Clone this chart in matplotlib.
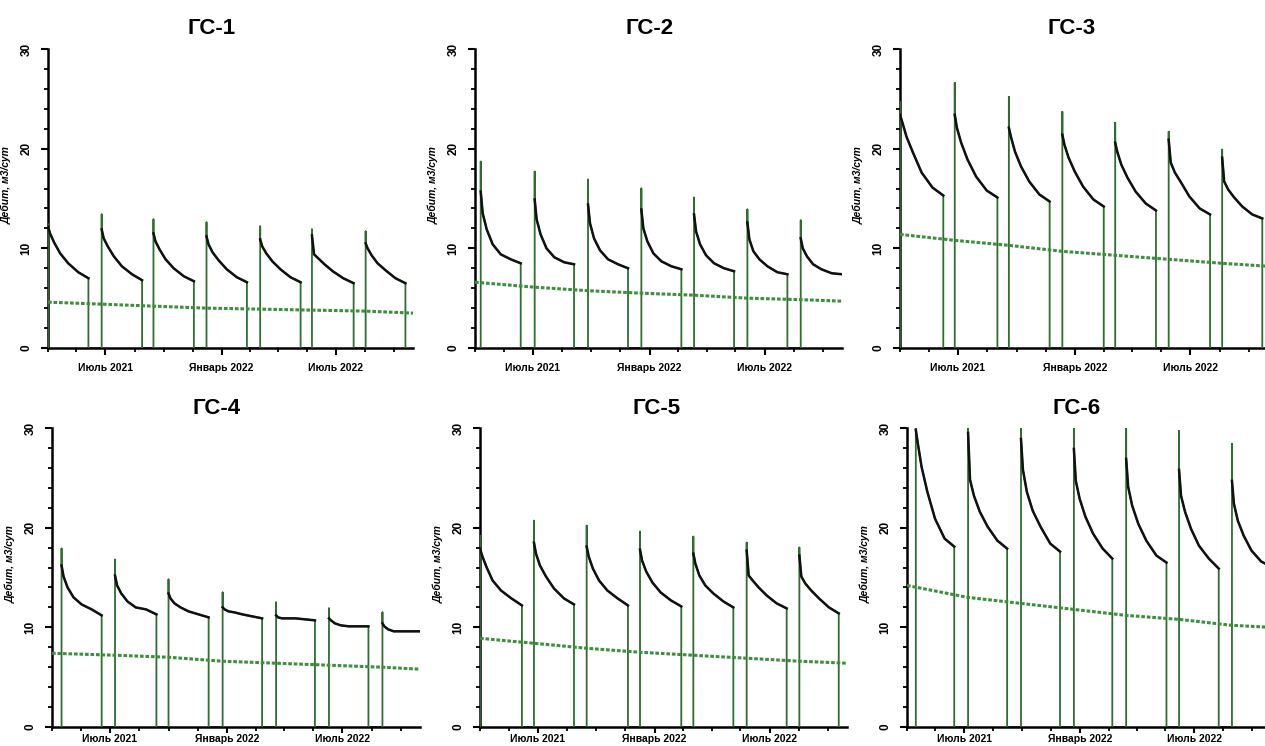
import datetime
import matplotlib
matplotlib.use("Agg")
import matplotlib.pyplot as plt
import matplotlib.dates as mdates

# wells
titles = ["ГС-1", "ГС-2", "ГС-3", "ГС-4", "ГС-5", "ГС-6"]

# days from 2021-04-01
spike_days = [
    [0, 85, 167, 251, 336, 418, 503],
    [9, 94, 178, 262, 345, 429, 513],
    [0, 86, 171, 255, 338, 422, 506],
    [15, 99, 183, 268, 352, 435, 519],
    [0, 85, 168, 252, 336, 420, 503],
    [14, 97, 181, 265, 348, 432, 516],
]
stop_days = [
    [64, 149, 231, 315, 400, 484, 566],
    [72, 156, 241, 325, 408, 492, 578],
    [68, 153, 235, 320, 402, 487, 569],
    [78, 164, 246, 330, 413, 497, 578],
    [66, 148, 233, 317, 399, 483, 565],
    [75, 159, 243, 326, 412, 495, 578],
]
# last cycle still running at the end of the period
open_end = [False, True, False, True, False, True]

peaks = [
    [12.4, 13.4, 12.9, 12.6, 12.2, 11.9, 11.7],
    [18.7, 17.7, 16.9, 16.0, 15.1, 13.9, 12.8],
    [24.7, 26.6, 25.2, 23.7, 22.6, 21.7, 19.9],
    [17.9, 16.8, 14.8, 13.5, 12.5, 11.9, 11.5],
    [19.2, 20.7, 20.2, 19.6, 19.1, 18.5, 18.0],
    [30.0, 30.0, 30.0, 30.0, 30.0, 29.7, 28.4],
]

# rate read along each cycle at fractions of the cycle length
frac = [0, 0.05, 0.15, 0.3, 0.5, 0.75, 1.0]
curves = [
    [[12.2, 11.5, 10.6, 9.5, 8.5, 7.6, 7.0],
     [11.9, 11.0, 10.2, 9.2, 8.2, 7.4, 6.8],
     [11.5, 10.7, 9.9, 8.9, 8.0, 7.2, 6.7],
     [11.2, 10.4, 9.6, 8.8, 7.9, 7.1, 6.6],
     [10.9, 10.2, 9.5, 8.7, 7.9, 7.1, 6.6],
     [11.3, 9.4, 9.0, 8.4, 7.7, 7.0, 6.5],
     [10.5, 10.0, 9.3, 8.5, 7.8, 7.0, 6.5]],
    [[15.7, 13.5, 11.9, 10.4, 9.4, 8.9, 8.5],
     [14.9, 12.9, 11.4, 10.0, 9.1, 8.6, 8.4],
     [14.4, 12.5, 11.0, 9.8, 8.9, 8.4, 8.0],
     [13.9, 12.0, 10.7, 9.5, 8.7, 8.2, 7.9],
     [13.4, 11.7, 10.4, 9.3, 8.5, 8.0, 7.7],
     [12.6, 10.9, 9.7, 8.9, 8.2, 7.6, 7.4],
     [11.0, 10.0, 9.2, 8.4, 7.9, 7.5, 7.4]],
    [[23.4, 22.7, 21.2, 19.6, 17.6, 16.1, 15.3],
     [23.4, 22.1, 20.6, 18.9, 17.2, 15.8, 15.1],
     [22.1, 21.2, 19.7, 18.2, 16.7, 15.4, 14.7],
     [21.4, 20.4, 19.1, 17.7, 16.2, 14.9, 14.2],
     [20.6, 19.7, 18.4, 17.1, 15.7, 14.5, 13.8],
     [20.9, 18.6, 17.6, 16.6, 15.2, 14.0, 13.4],
     [19.1, 16.7, 15.9, 15.1, 14.2, 13.4, 13.0]],
    [[16.2, 15.1, 14.0, 13.0, 12.3, 11.8, 11.2],
     [15.2, 14.2, 13.4, 12.6, 12.0, 11.8, 11.3],
     [13.4, 12.9, 12.4, 12.0, 11.6, 11.3, 11.0],
     [12.0, 11.8, 11.6, 11.5, 11.3, 11.1, 10.9],
     [11.2, 11.0, 10.9, 10.9, 10.9, 10.8, 10.7],
     [10.9, 10.7, 10.4, 10.2, 10.1, 10.1, 10.1],
     [10.4, 10.1, 9.8, 9.6, 9.6, 9.6, 9.6]],
    [[17.9, 17.2, 16.1, 14.7, 13.7, 12.9, 12.2],
     [18.5, 17.4, 16.2, 15.1, 13.9, 12.9, 12.3],
     [18.1, 17.1, 15.9, 14.7, 13.7, 12.9, 12.2],
     [17.8, 16.7, 15.6, 14.5, 13.5, 12.7, 12.1],
     [17.4, 16.4, 15.2, 14.2, 13.4, 12.6, 12.0],
     [17.7, 15.2, 14.7, 14.0, 13.2, 12.4, 11.9],
     [17.2, 15.1, 14.4, 13.7, 12.9, 12.0, 11.4]],
    [[29.8, 28.5, 26.1, 23.6, 20.9, 18.9, 18.1],
     [29.5, 24.8, 23.2, 21.6, 20.1, 18.7, 17.9],
     [28.9, 25.8, 23.6, 21.7, 20.1, 18.4, 17.6],
     [27.9, 24.7, 22.9, 21.1, 19.4, 17.9, 16.9],
     [26.9, 24.1, 22.2, 20.4, 18.7, 17.2, 16.5],
     [25.8, 23.2, 21.6, 19.9, 18.2, 16.9, 15.9],
     [24.7, 22.4, 20.7, 19.2, 17.7, 16.6, 16.1]],
]

# continuous-mode rate, at period start, each restart and period end
trend = [
    [4.6, 4.4, 4.2, 4.0, 3.9, 3.8, 3.7, 3.5],
    [6.6, 6.1, 5.75, 5.5, 5.3, 5.0, 4.85, 4.7],
    [11.4, 10.8, 10.3, 9.7, 9.3, 8.9, 8.5, 8.2],
    [7.4, 7.2, 7.0, 6.6, 6.4, 6.2, 6.0, 5.8],
    [8.9, 8.4, 7.9, 7.5, 7.2, 6.9, 6.6, 6.4],
    [14.2, 13.0, 12.4, 11.8, 11.2, 10.8, 10.2, 10.0],
]

end_day = 578
major_dates = [datetime.date(2021, 7, 1), datetime.date(2022, 1, 1), datetime.date(2022, 7, 1)]
major_labels = ["Июль 2021", "Январь 2022", "Июль 2022"]
minor_dates = [datetime.date(2021, 4, 1), datetime.date(2021, 5, 16), datetime.date(2021, 8, 16),
               datetime.date(2021, 10, 1), datetime.date(2021, 11, 16), datetime.date(2022, 2, 15),
               datetime.date(2022, 4, 1), datetime.date(2022, 5, 16), datetime.date(2022, 8, 16),
               datetime.date(2022, 10, 1)]

plt.rcParams['font.family'] = ['Liberation Sans', 'DejaVu Sans']

W, H = 1265, 746
# axes boxes in pixels: left, top(30), right
boxes = [(48, 49, 413), (475, 49, 842), (900, 49, 1268),
         (52, 428, 420), (480, 428, 847), (907, 428, 1271)]
title_x = [212, 650, 1072, 217, 657, 1077]

x0 = mdates.date2num(datetime.date(2021, 4, 1))
green = '#2f6e2f'
dgreen = '#3c8f3c'

fig = plt.figure(figsize=(W / 100, H / 100), dpi=100)

for k in range(6):
    l, t, r = boxes[k]
    ax = fig.add_axes([l / W, 1 - (t + 299) / H, (r - l) / W, 299 / H])

    starts = spike_days[k]
    stops = stop_days[k]
    for c in range(7):
        t0 = starts[c]
        t1 = stops[c]
        cx = [x0 + t0 + f * (t1 - t0) for f in frac]
        cy = curves[k][c]
        gx = [x0 + t0, x0 + t0] + cx
        gy = [0, peaks[k][c]] + cy
        if not (open_end[k] and c == 6):
            gx = gx + [x0 + t1]
            gy = gy + [0]
        ax.plot(gx, gy, color=green, lw=1.3, zorder=3)
        ax.plot(cx, cy, color='#111111', lw=1.8, zorder=4)
        # idle time between cycles
        if c < 6:
            ax.plot([x0 + t1, x0 + starts[c + 1]], [0, 0], color=green, lw=1.3)

    tx = [x0] + [x0 + d for d in starts[1:]] + [x0 + end_day]
    ax.plot(tx, trend[k], color=dgreen, lw=2.2, ls=(0, (1.2, 0.6)), zorder=5)

    ax.set_xlim(x0, x0 + end_day)
    ax.set_ylim(0, 30)
    for s in ['top', 'right']:
        ax.spines[s].set_visible(False)
    for s in ['left', 'bottom']:
        ax.spines[s].set_linewidth(1.8)

    ax.set_yticks([0, 10, 20, 30])
    ax.set_yticks(range(0, 31, 2), minor=True)
    ax.set_yticklabels(['0', '10', '20', '30'], rotation=90, va='center',
                       fontsize=8.5, fontweight='bold')
    ax.set_xticks([mdates.date2num(d) for d in major_dates])
    ax.set_xticks([mdates.date2num(d) for d in minor_dates], minor=True)
    ax.set_xticklabels(major_labels, fontsize=7.5, fontweight='bold')
    ax.tick_params(axis='both', which='major', length=5, width=1.5, direction='out', pad=6)
    ax.tick_params(axis='both', which='minor', length=3, width=1.3, direction='out')
    if k >= 3:
        # bottom row sits close to the lower edge of the figure
        ax.tick_params(axis='x', which='major', length=4, pad=1)

    ax.set_ylabel("Дебит, м3/сут", fontsize=7.5, fontweight='bold', style='italic')
    ax.yaxis.set_label_coords(-36 / (r - l), 0.545)

    fig.text(title_x[k] / W, 1 - (t - 20) / H, titles[k], ha='center', va='center',
             fontsize=16, fontweight='bold')

fig.savefig('out.png', dpi=100)
